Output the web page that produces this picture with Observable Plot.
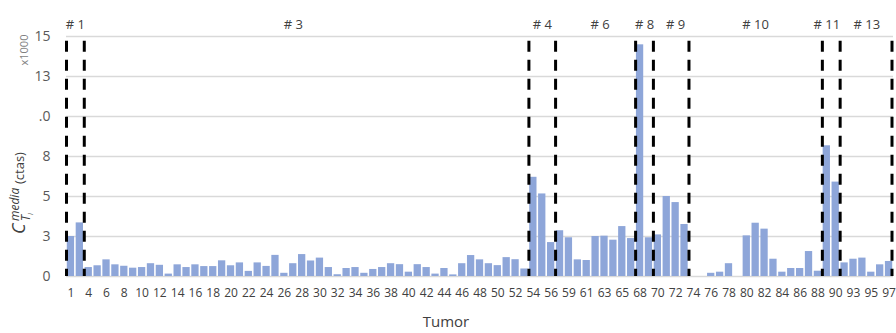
<!DOCTYPE html>
<html>
<head>
<meta charset="utf-8">
<style>
  body { margin: 0; background: #fff; }
  svg { font-family: "Open Sans", "Lato", sans-serif; }
</style>
<script src="https://cdn.jsdelivr.net/npm/d3@7"></script>
<script src="https://cdn.jsdelivr.net/npm/@observablehq/plot@0.6"></script>
</head>
<body>
<div id="chart"></div>
<script>
// Tumor identifiers (categories)
const tumors = ["1","2","4","5","6","7","8","9","10","11","12","13","14","15","16","17","18","19","20","21","22","23","24","25","26","27","28","29","30","31","32","33","34","35","36","37","38","39","40","41","42","43","44","45","46","47","48","49","50","51","52","53","54","55","56","57","59","60","61","62","63","64","65","66","68","69","70","71","72","73","74","75","76","77","78","79","80","81","82","83","84","85","86","87","88","89","90","91","93","94","95","96","97"];

// Median counts per tumor (x1000)
const medianCounts = [2.5,3.35,0.56,0.67,1.04,0.73,0.64,0.52,0.56,0.8,
  0.7,0.15,0.73,0.56,0.73,0.62,0.62,0.98,0.67,0.85,
  0.32,0.85,0.63,1.32,0.2,0.8,1.37,0.97,1.15,0.56,
  0.11,0.5,0.56,0.2,0.44,0.56,0.8,0.74,0.27,0.74,
  0.56,0.15,0.5,0.1,0.8,1.31,1.04,0.8,0.68,1.18,
  1.05,0.47,6.2,5.16,2.12,2.86,2.42,1.04,1.0,2.5,
  2.52,2.27,3.12,2.37,14.48,2.42,2.6,5.0,4.62,3.25,
  0,0,0.2,0.27,0.8,0,2.54,3.33,2.96,1.08,
  0.27,0.5,0.5,1.56,0.33,8.17,5.9,0.85,1.08,1.15,
  0.27,0.73,0.94];

// Y axis ticks and their displayed labels
const yTicks = [0, 2.5, 5, 7.5, 10, 12.5, 15];
const yTickLabels = ["0", "3", "5", "8", ".0", "13", "15"];

// X tick labels shown (every other tumor)
const xTickLabels = tumors.filter((d, i) => i % 2 === 0);

// Patient group dividers (dashed lines placed before these tumors / after the last)
const dividersBefore = ["1", "4", "54", "57", "68", "70", "74", "89", "91"];
const dividersAfter = ["97"];

// Group labels centred on a tumor bar / on a boundary before a tumor
const groupLabelsOnBar = ["# 3", "# 4", "# 9", "# 10", "# 11"];
const groupTumorsOnBar = ["27", "55", "72", "81", "89"];
const groupLabelsOnEdge = ["# 1", "# 6", "# 8", "# 13"];
const groupTumorsOnEdge = ["2", "63", "69", "95"];

const data = tumors.map((t, i) => ({tumor: t, value: medianCounts[i]}));
const onBar = groupLabelsOnBar.map((l, i) => ({label: l, tumor: groupTumorsOnBar[i]}));
const onEdge = groupLabelsOnEdge.map((l, i) => ({label: l, tumor: groupTumorsOnEdge[i]}));

const W = 896, H = 333, ML = 66, MR = 3, MT = 36, MB = 57;
const padIn = 0.18, padOut = 0.09;
const step = (W - ML - MR) / (tumors.length - padIn + 2 * padOut);

const chart = Plot.plot({
  width: W, height: H,
  marginLeft: ML, marginRight: MR, marginTop: MT, marginBottom: MB,
  style: {background: "#fff"},
  x: {domain: tumors, paddingInner: padIn, paddingOuter: padOut, axis: null},
  y: {domain: [0, 15], axis: null},
  marks: [
    Plot.gridY(yTicks, {stroke: "#d9d9d9", strokeOpacity: 1, strokeWidth: 1.6}),
    Plot.barY(data, {x: "tumor", y: "value", fill: "#8EA6D9"}),
    Plot.ruleX(dividersBefore, {x: d => d, y1: 14.7, y2: 0, dx: -step / 2, stroke: "#000", strokeWidth: 3, strokeDasharray: "11,8"}),
    Plot.ruleX(dividersAfter, {x: d => d, y1: 14.7, y2: 0, dx: step / 2 - 1.5, stroke: "#000", strokeWidth: 3, strokeDasharray: "11,8"}),
    Plot.axisY(yTicks, {tickSize: 0, tickPadding: 16, fontSize: 14, color: "#595959",
      tickFormat: d => yTickLabels[yTicks.indexOf(d)], label: null}),
    Plot.axisX(xTickLabels, {tickSize: 0, tickPadding: 12, fontSize: 12, color: "#404040", label: null}),
    Plot.text(onBar, {x: "tumor", y: () => 15, text: "label", dy: -12, fontSize: 13, fill: "#404040"}),
    Plot.text(onEdge, {x: "tumor", y: () => 15, text: "label", dy: -12, dx: -step / 2, fontSize: 13, fill: "#404040"}),
    Plot.text(["Tumor"], {frameAnchor: "bottom", dx: -34, dy: 50, fontSize: 15, fill: "#404040"}),
    Plot.text(["x1000"], {frameAnchor: "top-left", dx: -46, dy: 29, rotate: -90, fontSize: 11, fill: "#7f7f7f"})
  ]
});

document.getElementById("chart").appendChild(chart);

// Rich y-axis title: C_{T_i}^{media}(ctas)
const svg = d3.select(chart);
const t = svg.append("text")
  .attr("transform", "translate(25,234) rotate(-90)")
  .attr("fill", "#404040")
  .attr("text-anchor", "start");
t.append("tspan").attr("x", 0).attr("y", 0).attr("font-size", 18).attr("font-style", "italic").text("C");
t.append("tspan").attr("x", 13).attr("y", -6).attr("font-size", 12).attr("font-style", "italic").text("media");
t.append("tspan").attr("x", 13).attr("y", 5).attr("font-size", 12).attr("font-style", "italic").text("T");
t.append("tspan").attr("y", 8).attr("font-size", 8).attr("font-style", "italic").text("i");
t.append("tspan").attr("x", 50).attr("y", -1).attr("font-size", 13).text("(ctas)");
</script>
</body>
</html>
